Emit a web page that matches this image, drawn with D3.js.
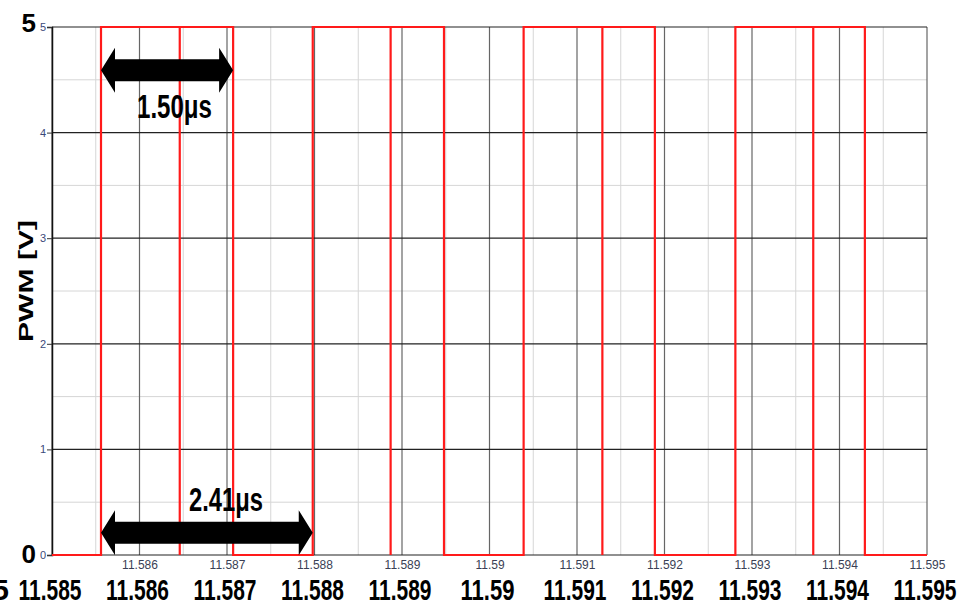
<!DOCTYPE html>
<html>
<head>
<meta charset="utf-8">
<script src="https://d3js.org/d3.v7.min.js"></script>
<style>
  body { margin: 0; background: #fff; }
  svg { display: block; font-family: "Liberation Sans Narrow", "Liberation Sans", Arial, sans-serif; }
</style>
</head>
<body>
<svg id="chart" width="960" height="606"></svg>
<script>
// time axis in ms, PWM level in volts
var xTicks = [11.585, 11.586, 11.587, 11.588, 11.589, 11.59, 11.591, 11.592, 11.593, 11.594, 11.595];
var xTickText = ["11.585", "11.586", "11.587", "11.588", "11.589", "11.59", "11.591", "11.592", "11.593", "11.594", "11.595"];
var yTicks = [0, 1, 2, 3, 4, 5];

// switching instants
var riseT = [11.58556, 11.58798, 11.59039, 11.59281];
var dipT  = [11.58646, 11.58887, 11.59129, 11.59370];
var fallT = [11.58707, 11.58948, 11.59189, 11.59429];
var vLow = 0, vHigh = 5;

// dimension annotations
var spans = [
  {from: 11.58556, to: 11.58707, level: 4.59, label: "1.50μs"},
  {from: 11.58556, to: 11.58798, level: 0.21, label: "2.41μs"}
];

var svg = d3.select("#chart");
var plotL = 52, plotR = 927, plotT = 27, plotB = 555;

var x = d3.scaleLinear().domain([11.585, 11.595]).range([plotL, plotR]);
var y = d3.scaleLinear().domain([0, 5]).range([plotB, plotT]);

// build the step trace
var pts = [[11.585, vLow]];
riseT.forEach(function(r, i) {
  pts.push([r, vLow], [r, vHigh], [dipT[i], vHigh], [dipT[i], vLow], [dipT[i], vHigh],
           [fallT[i], vHigh], [fallT[i], vLow]);
});
pts.push([11.595, vLow]);

// minor grid
var xMinor = d3.range(xTicks.length - 1).map(function(i) { return (xTicks[i] + xTicks[i + 1]) / 2; });
var yMinor = d3.range(yTicks.length - 1).map(function(i) { return yTicks[i] + 0.5; });

var grid = svg.append("g");
grid.selectAll(".vminor").data(xMinor).enter().append("line")
  .attr("x1", d => x(d)).attr("x2", d => x(d)).attr("y1", plotT).attr("y2", plotB)
  .attr("stroke", "#d6d6d6").attr("stroke-width", 1);
grid.selectAll(".hminor").data(yMinor).enter().append("line")
  .attr("x1", plotL).attr("x2", plotR).attr("y1", d => y(d)).attr("y2", d => y(d))
  .attr("stroke", "#d6d6d6").attr("stroke-width", 1);
grid.selectAll(".vmajor").data(xTicks).enter().append("line")
  .attr("x1", d => x(d)).attr("x2", d => x(d)).attr("y1", plotT).attr("y2", plotB)
  .attr("stroke", "#666").attr("stroke-width", 1.2);
grid.selectAll(".hmajor").data(yTicks).enter().append("line")
  .attr("x1", plotL).attr("x2", plotR).attr("y1", d => y(d)).attr("y2", d => y(d))
  .attr("stroke", "#222").attr("stroke-width", 1.2);

// left axis with small ticks
var yAxis = d3.axisLeft(y).tickValues(yTicks).tickSize(5).tickPadding(1).tickFormat(d3.format("d"));
var ya = svg.append("g").attr("transform", "translate(" + plotL + ",0)").call(yAxis);
ya.select(".domain").attr("stroke", "#111").attr("stroke-width", 1.5);
ya.selectAll(".tick line").attr("stroke", "#333");
ya.selectAll(".tick text").attr("fill", "#3b4a7a").attr("font-size", 11);

// small x labels under the grid
var xAxis = d3.axisBottom(x).tickValues(xTicks.slice(1)).tickSize(0).tickPadding(5)
  .tickFormat(d => xTickText[xTicks.indexOf(d)]);
var xa = svg.append("g").attr("transform", "translate(0," + plotB + ")").call(xAxis);
xa.select(".domain").remove();
xa.selectAll(".tick text").attr("fill", "#3a3f55").attr("font-size", 12);

// trace
var line = d3.line().x(d => x(d[0])).y(d => y(d[1]));
svg.append("path").datum(pts).attr("d", line)
  .attr("fill", "none").attr("stroke", "#ff1a1a").attr("stroke-width", 2.2);

// double-headed arrows
function arrowPath(x0, x1, yc) {
  var hl = 14, hh = 22.5, sh = 11;
  return "M" + x0 + "," + yc +
    "L" + (x0 + hl) + "," + (yc - hh) + "L" + (x0 + hl) + "," + (yc - sh) +
    "L" + (x1 - hl) + "," + (yc - sh) + "L" + (x1 - hl) + "," + (yc - hh) +
    "L" + x1 + "," + yc +
    "L" + (x1 - hl) + "," + (yc + hh) + "L" + (x1 - hl) + "," + (yc + sh) +
    "L" + (x0 + hl) + "," + (yc + sh) + "L" + (x0 + hl) + "," + (yc + hh) + "Z";
}
var ann = svg.append("g");
ann.selectAll("path").data(spans).enter().append("path")
  .attr("d", d => arrowPath(x(d.from), x(d.to), y(d.level)))
  .attr("fill", "#000");

ann.selectAll("text").data(spans).enter().append("text")
  .attr("x", (d, i) => i === 0 ? 137 : 189)
  .attr("y", (d, i) => i === 0 ? 118 : 511)
  .attr("font-size", 33).attr("font-weight", "bold")
  .attr("textLength", (d, i) => i === 0 ? 75 : 74)
  .attr("lengthAdjust", "spacingAndGlyphs")
  .text(d => d.label);

// big overlay labels
svg.append("g").selectAll("text").data(xTicks).enter().append("text")
  .attr("x", d => x(d) - 2).attr("y", 600)
  .attr("text-anchor", "middle")
  .attr("font-size", 30).attr("font-weight", "bold")
  .attr("textLength", (d, i) => xTickText[i].length === 5 ? 54 : 63)
  .attr("lengthAdjust", "spacingAndGlyphs")
  .text((d, i) => xTickText[i]);

svg.append("text").attr("x", 9).attr("y", 600).attr("text-anchor", "end")
  .attr("font-size", 30).attr("font-weight", "bold").text("5");

svg.selectAll(".bigy").data([yTicks[5], yTicks[0]]).enter().append("text")
  .attr("x", 36).attr("y", d => y(d) + (d === 5 ? 5 : 8))
  .attr("text-anchor", "end")
  .attr("font-size", 26).attr("font-weight", "bold")
  .text(d => d);

// y title
svg.append("text")
  .attr("transform", "translate(33,281) rotate(-90)")
  .attr("text-anchor", "middle")
  .attr("font-family", "'Liberation Sans', Arial, sans-serif")
  .attr("font-size", 21).attr("font-weight", "bold")
  .attr("textLength", 122).attr("lengthAdjust", "spacingAndGlyphs")
  .text("PWM [V]");
</script>
</body>
</html>
